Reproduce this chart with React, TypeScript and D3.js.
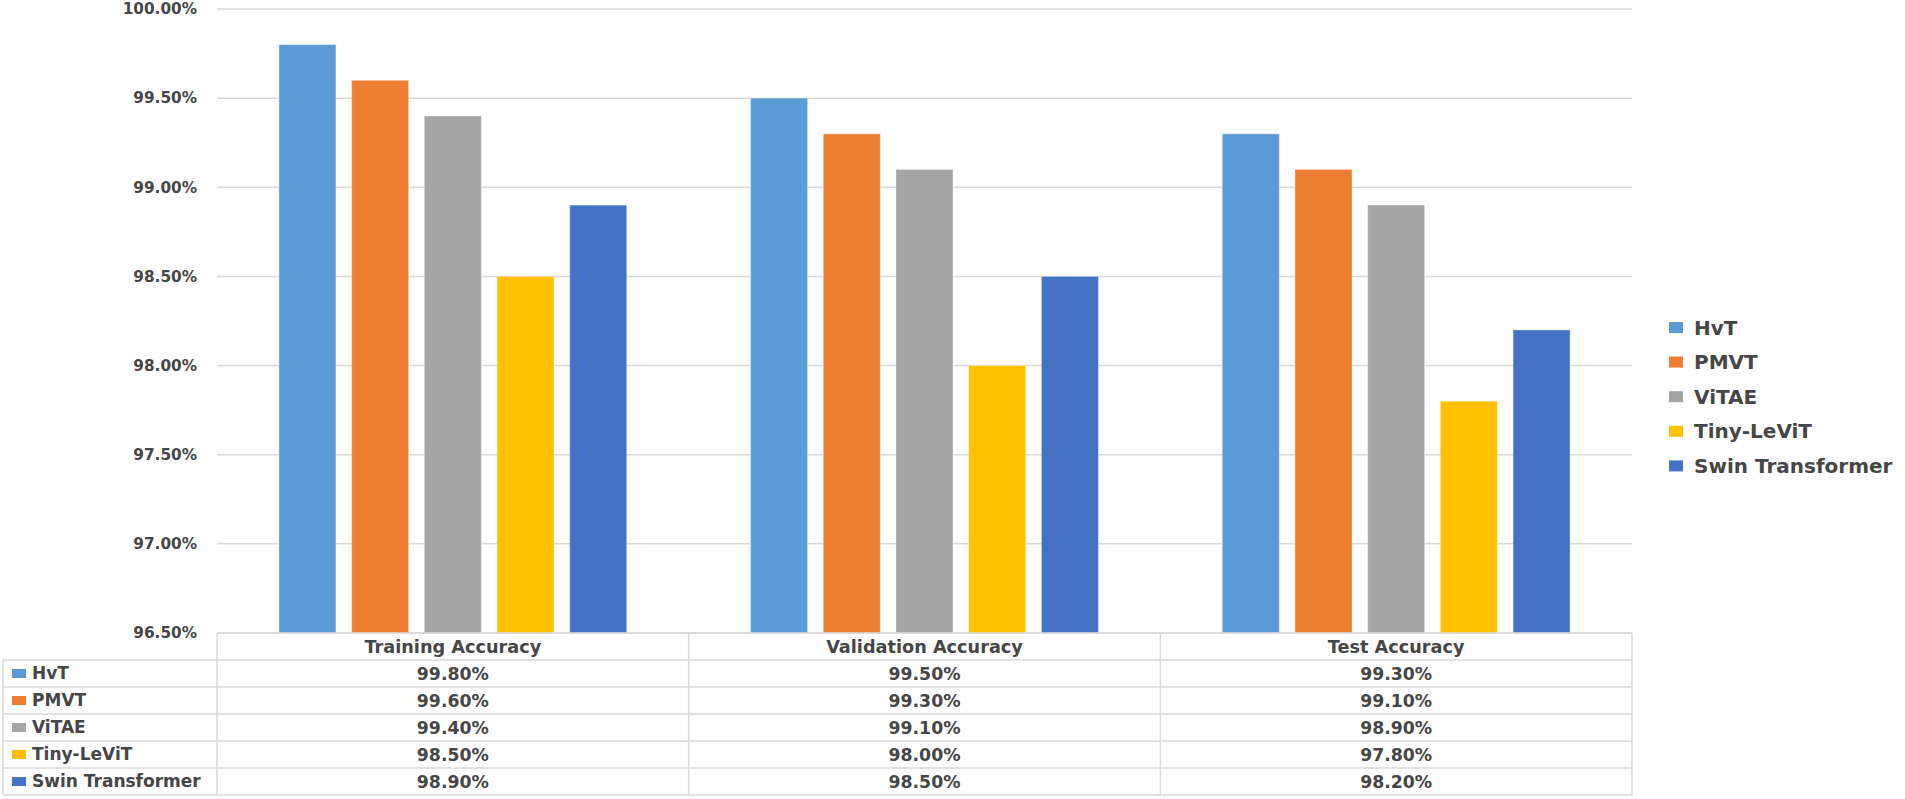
import React from "react";
import * as d3 from "d3";

const categories = ["Training Accuracy", "Validation Accuracy", "Test Accuracy"];
const seriesNames = ["HvT", "PMVT", "ViTAE", "Tiny-LeViT", "Swin Transformer"];
const hvt = [99.8, 99.5, 99.3];
const pmvt = [99.6, 99.3, 99.1];
const vitae = [99.4, 99.1, 98.9];
const tinyLevit = [98.5, 98.0, 97.8];
const swin = [98.9, 98.5, 98.2];
const seriesValues = [hvt, pmvt, vitae, tinyLevit, swin];
const colors = ["#5B9BD5", "#ED7D31", "#A5A5A5", "#FFC000", "#4472C4"];
const yTicks = [96.5, 97.0, 97.5, 98.0, 98.5, 99.0, 99.5, 100.0];

const W = 1905;
const H = 799;
const plotLeft = 217;
const plotRight = 1632;
const plotTop = 9;
const plotBottom = 633;
const tableLeft = 3;
const rowH = 27;
const textColor = "#464646";
const gridColor = "#d9d9d9";
const font = "'DejaVu Sans', Verdana, sans-serif";

export default function App() {
  const x0 = d3.scaleBand<string>().domain(categories).range([plotLeft, plotRight]).padding(0);
  const x1 = d3
    .scaleBand<string>()
    .domain(seriesNames)
    .range([0, x0.bandwidth()])
    .paddingInner(0.216)
    .paddingOuter(0.852);
  const y = d3.scaleLinear().domain([96.5, 100]).range([plotBottom, plotTop]);
  const fmt = (v: number) => v.toFixed(2) + "%";

  const tableBottom = plotBottom + rowH * (seriesNames.length + 1);

  return (
    <svg
      width={W}
      height={H}
      style={{ position: "absolute", left: 0, top: 0, background: "#fff" }}
      fontFamily={font}
      fontWeight="bold"
    >
      <rect x={0} y={0} width={W} height={H} fill="#fff" />
      {yTicks.map((t) => (
        <line key={"g" + t} x1={plotLeft} x2={plotRight} y1={y(t)} y2={y(t)} stroke={gridColor} strokeWidth={1.5} />
      ))}
      {yTicks.map((t) => (
        <text key={"t" + t} x={197} y={y(t)} dy="0.35em" textAnchor="end" fontSize={15.3} fill={textColor}>
          {fmt(t)}
        </text>
      ))}
      {categories.map((c, ci) => (
        <g key={c} transform={`translate(${x0(c)},0)`}>
          {seriesNames.map((s, si) => {
            const v = seriesValues[si][ci];
            return (
              <rect
                key={s}
                x={x1(s)}
                y={y(v)}
                width={x1.bandwidth()}
                height={plotBottom - y(v)}
                fill={colors[si]}
                stroke="#ffffff"
                strokeOpacity={0.35}
                strokeWidth={1}
              />
            );
          })}
        </g>
      ))}
      <g>
        <line x1={plotLeft} x2={plotRight} y1={plotBottom} y2={plotBottom} stroke={gridColor} strokeWidth={1.5} />
        {d3.range(1, seriesNames.length + 2).map((i) => (
          <line
            key={"h" + i}
            x1={tableLeft}
            x2={plotRight}
            y1={plotBottom + i * rowH}
            y2={plotBottom + i * rowH}
            stroke={gridColor}
            strokeWidth={1.5}
          />
        ))}
        <line x1={tableLeft} x2={tableLeft} y1={plotBottom + rowH} y2={tableBottom} stroke={gridColor} strokeWidth={1.5} />
        {categories.map((c) => (
          <line
            key={"v" + c}
            x1={x0(c)!}
            x2={x0(c)!}
            y1={plotBottom}
            y2={tableBottom}
            stroke={gridColor}
            strokeWidth={1.5}
          />
        ))}
        <line x1={plotRight} x2={plotRight} y1={plotBottom} y2={tableBottom} stroke={gridColor} strokeWidth={1.5} />
        {categories.map((c) => (
          <text
            key={"hc" + c}
            x={x0(c)! + x0.bandwidth() / 2}
            y={plotBottom + rowH / 2}
            dy="0.35em"
            textAnchor="middle"
            fontSize={17.7}
            fill={textColor}
          >
            {c}
          </text>
        ))}
        {seriesNames.map((s, si) => {
          const cy = plotBottom + (si + 1) * rowH + rowH / 2;
          return (
            <g key={"r" + s}>
              <rect x={12} y={cy - 4.5} width={14} height={9} fill={colors[si]} />
              <text x={32} y={cy} dy="0.35em" fontSize={17} fill={textColor}>
                {s}
              </text>
              {categories.map((c, ci) => (
                <text
                  key={c}
                  x={x0(c)! + x0.bandwidth() / 2}
                  y={cy}
                  dy="0.35em"
                  textAnchor="middle"
                  fontSize={17.3}
                  fill={textColor}
                >
                  {fmt(seriesValues[si][ci])}
                </text>
              ))}
            </g>
          );
        })}
      </g>
      {seriesNames.map((s, si) => {
        const cy = 327.5 + si * 34.6;
        return (
          <g key={"l" + s}>
            <rect x={1669} y={cy - 5.5} width={14} height={11} fill={colors[si]} />
            <text x={1694} y={cy} dy="0.35em" fontSize={20} fill={textColor}>
              {s}
            </text>
          </g>
        );
      })}
    </svg>
  );
}
